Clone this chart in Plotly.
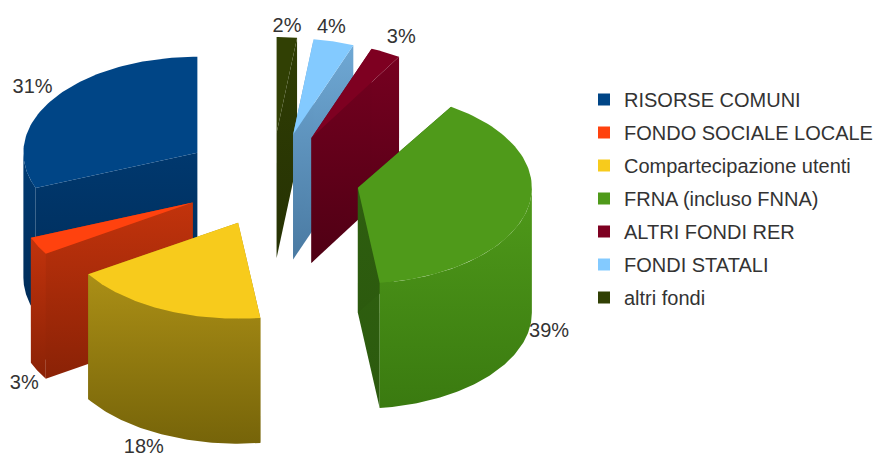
import numpy as np
import plotly.graph_objects as go

# ---- data ----
categories = ["RISORSE COMUNI", "FONDO SOCIALE LOCALE", "Compartecipazione utenti",
              "FRNA (incluso FNNA)", "ALTRI FONDI RER", "FONDI STATALI", "altri fondi"]
values = [31, 3, 18, 39, 3, 4, 2]
top_colors = ["#004586", "#ff420e", "#f7cb1c", "#4f9a1a", "#7e0021", "#83caff", "#314004"]
wall_top = ["#003b73", "#c2330c", "#ab8f16", "#4f9a1a", "#5f0019", "#6fa8d4", "#2c3a04"]
wall_bot = ["#002c58", "#8a2206", "#766409", "#3a7a10", "#560016", "#4a7aa2", "#263203"]
cut_top = ["#00386e", "#c2330c", "#ab8f16", "#2f6110", "#760020", "#6fa8d4", "#2f3d04"]
cut_bot = ["#002c58", "#8a2206", "#766409", "#2c5a0e", "#4f0014", "#4a7aa2", "#263203"]
paint_order = [0, 6, 5, 4, 3, 1, 2]

# ---- projection of the exploded 3D pie (pixel-scaled axes) ----
CX, CY = 271, 178
RX, RY = 174, 96
EX, EY = 89, 45
DEPTH = 125
RX_SCALE = [1, 1, 1.02, 1, 0.94, 0.94, 0.94]           # perspective, far slices narrower
SLICE_SHIFT = [(0, 0), (1, 4), (5, 4), (0, 0), (0, 0), (0, 0), (0, 0)]
LABEL_SHIFT = [(-1, 0), (8, 4), (-10, -4), (-2, -6), (0, 3), (-11, 5), (-2, 9)]

fracs = np.array(values, dtype=float) / sum(values)
ends = np.cumsum(fracs) * 2 * np.pi
starts = ends - fracs * 2 * np.pi


def px(t):
    return -np.sin(t)


def py(t):
    return -np.cos(t)


fig = go.Figure()


def poly(xs, ys, color=None, grad=None):
    # vertical fill gradients run from the bottom (0) to the top (1) of the shape
    kw = dict(fillcolor=color) if grad is None else dict(
        fillgradient=dict(type="vertical", colorscale=[[0, grad[1]], [1, grad[0]]]))
    fig.add_trace(go.Scatter(x=list(xs), y=list(ys), mode="lines", fill="toself",
                             line=dict(width=0), hoverinfo="skip", showlegend=False, **kw))


def origin(i):
    mid = (starts[i] + ends[i]) / 2
    return CX + EX * px(mid) + SLICE_SHIFT[i][0], CY + EY * py(mid) + SLICE_SHIFT[i][1]


for i in paint_order:
    a0, a1 = starts[i], ends[i]
    ox, oy = origin(i)
    rx = RX * RX_SCALE[i]
    # radial cut faces
    for a in (a0, a1):
        ex, ey = ox + rx * px(a), oy + RY * py(a)
        poly([ox, ex, ex, ox, ox], [oy, ey, ey + DEPTH, oy + DEPTH, oy],
             grad=(cut_top[i], cut_bot[i]))
    # outer wall: the part of the arc that faces the viewer
    w0, w1 = max(a0, np.pi / 2), min(a1, 3 * np.pi / 2)
    if w1 > w0:
        t = np.linspace(w0, w1, 80)
        xa, ya = ox + rx * px(t), oy + RY * py(t)
        poly(np.r_[xa, xa[::-1]], np.r_[ya, (ya + DEPTH)[::-1]],
             grad=(wall_top[i], wall_bot[i]))
    # top face
    t = np.linspace(a0, a1, 80)
    poly(np.r_[ox, ox + rx * px(t), ox], np.r_[oy, oy + RY * py(t), oy], color=top_colors[i])

# percentage labels
lx, ly, lt = [], [], []
for i in range(len(values)):
    mid = (starts[i] + ends[i]) / 2
    ox, oy = origin(i)
    front = DEPTH if np.pi / 2 < mid < 3 * np.pi / 2 else 0
    lx.append(ox + (RX + 24) * px(mid) + LABEL_SHIFT[i][0])
    ly.append(oy + (RY + 19) * py(mid) + front + LABEL_SHIFT[i][1])
    lt.append(f"{values[i]}%")
fig.add_trace(go.Scatter(x=lx, y=ly, text=lt, mode="text", showlegend=False, hoverinfo="skip",
                         textposition="middle center",
                         textfont=dict(family="Liberation Sans", size=20, color="#333333")))

# legend
for name, col in zip(categories, top_colors):
    fig.add_trace(go.Scatter(x=[None], y=[None], mode="markers", name=name, legendgroup=name,
                             marker=dict(symbol="square", size=12, color=col)))

fig.update_layout(
    width=878, height=457, margin=dict(l=0, r=0, t=0, b=0),
    paper_bgcolor="white", plot_bgcolor="white",
    xaxis=dict(range=[0, 878], visible=False, fixedrange=True),
    yaxis=dict(range=[457, 0], visible=False, fixedrange=True),
    legend=dict(x=584 / 878, y=1 - 80 / 457, xanchor="left", yanchor="top",
                font=dict(family="Liberation Sans", size=20, color="#333333"),
                tracegroupgap=4, bgcolor="rgba(0,0,0,0)", itemclick=False, itemdoubleclick=False),
)
fig.write_html("out.html", config=dict(displayModeBar=False),
               post_script="document.body.style.margin='0';")
